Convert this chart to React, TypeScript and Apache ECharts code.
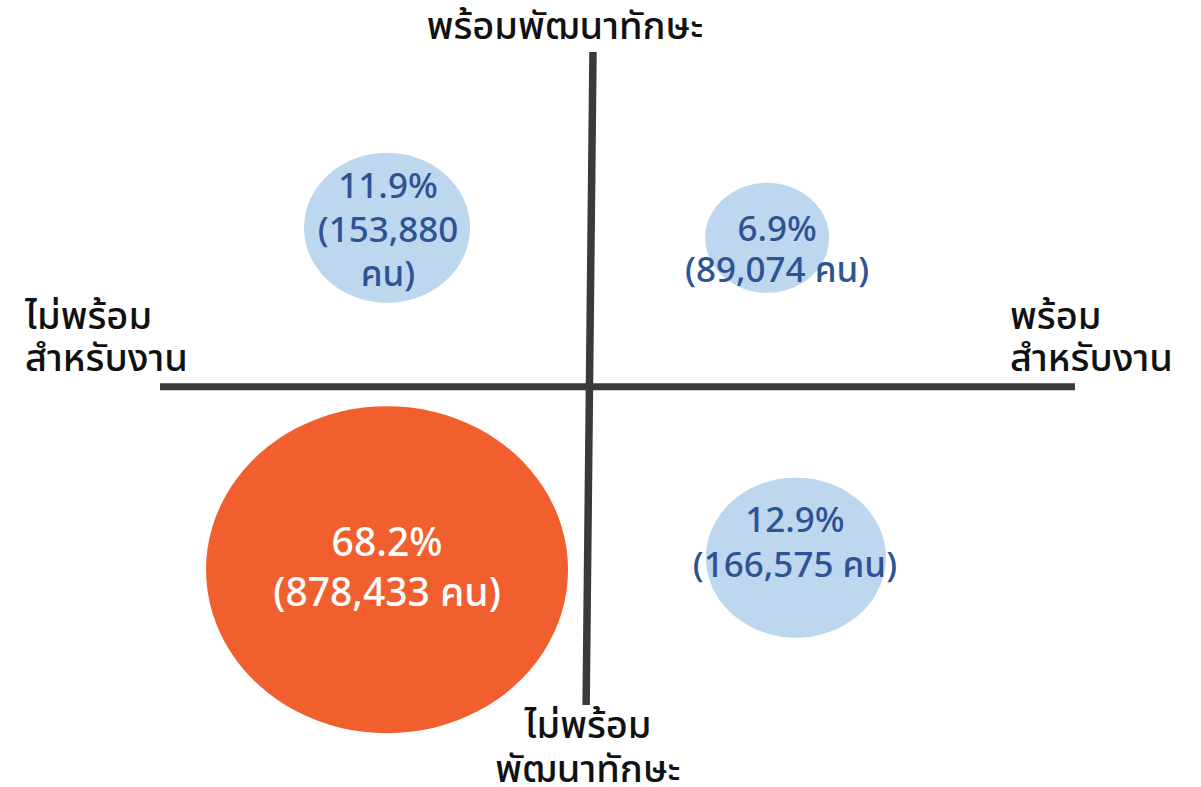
import React, { useEffect, useRef } from "react";
import * as echarts from "echarts";

// Quadrant data
const quadrants = ["ไม่พร้อมสำหรับงาน / พร้อมพัฒนาทักษะ", "พร้อมสำหรับงาน / พร้อมพัฒนาทักษะ", "ไม่พร้อมสำหรับงาน / ไม่พร้อมพัฒนาทักษะ", "พร้อมสำหรับงาน / ไม่พร้อมพัฒนาทักษะ"];
const workReadiness = [-0.472, 0.412, -0.472, 0.479];
const skillReadiness = [0.475, 0.445, -0.546, -0.51];
const percentages = [11.9, 6.9, 68.2, 12.9];
const people = [153880, 89074, 878433, 166575];

const titleTop = "พร้อมพัฒนาทักษะ";
const titleBottom = "ไม่พร้อม\nพัฒนาทักษะ";
const titleLeft = "ไม่พร้อม\nสำหรับงาน";
const titleRight = "พร้อม\nสำหรับงาน";

// Axis extents (quadrant units)
const xMin = -1;
const xMax = 1.128;
const yMin = -0.95;
const yMax = 1;
const hLine = [[-1, 0], [1.128, 0]];
const vLine = [[0.007, 1], [-0.009, -0.95]];

const FONT = "'Noto Sans Thai', 'Noto Sans', sans-serif";
const LINE = "#3a3a3a";
const BLUE_FILL = "#BDD7EE";
const BLUE_TEXT = "#2E5395";
const ORANGE = "#F25F2E";

const bubbleStyles = [
  { size: [166, 150], fill: BLUE_FILL, text: BLUE_TEXT, fontSize: 35, lineHeight: 44, offset: [1, 4], wrap: true },
  { size: [124, 110], fill: BLUE_FILL, text: BLUE_TEXT, fontSize: 35, lineHeight: 41, offset: [10, 13], wrap: false },
  { size: [362, 327], fill: ORANGE, text: "#FFFFFF", fontSize: 39, lineHeight: 50, offset: [0, 0], wrap: false },
  { size: [180, 160], fill: BLUE_FILL, text: BLUE_TEXT, fontSize: 35, lineHeight: 45, offset: [-1, -14], wrap: false },
];

export default function App() {
  const ref = useRef<HTMLDivElement>(null);
  useEffect(() => {
    document.body.style.margin = "0";
    const chart = echarts.init(ref.current!, null, { renderer: "svg" });
    const data = quadrants.map((name, i) => {
      const s = bubbleStyles[i];
      const count = people[i].toLocaleString("en-US");
      const text = s.wrap
        ? `${percentages[i]}%\n(${count}\nคน)`
        : `${percentages[i]}%\n(${count} คน)`;
      return {
        name,
        value: [workReadiness[i], skillReadiness[i]],
        symbolSize: s.size,
        itemStyle: { color: s.fill, opacity: 1 },
        label: {
          show: true,
          position: "inside",
          formatter: text,
          color: s.text,
          fontSize: s.fontSize,
          fontWeight: 500,
          lineHeight: s.lineHeight,
          fontFamily: FONT,
          offset: s.offset,
          align: "center",
        },
      };
    });
    const titleStyle = { fill: "#111111", font: `500 38px ${FONT}` };
    chart.setOption({
      animation: false,
      backgroundColor: "#ffffff",
      grid: { left: 160, right: 126, top: 52, bottom: 82 },
      xAxis: { type: "value", min: xMin, max: xMax, show: false },
      yAxis: { type: "value", min: yMin, max: yMax, show: false },
      series: [
        {
          type: "line",
          data: hLine,
          symbol: "none",
          clip: false,
          silent: true,
          z: 1,
          lineStyle: { color: LINE, width: 7 },
        },
        {
          type: "line",
          data: vLine,
          symbol: "none",
          clip: false,
          silent: true,
          z: 1,
          lineStyle: { color: LINE, width: 7.5 },
        },
        {
          type: "scatter",
          symbol: "circle",
          z: 2,
          data,
        },
      ],
      graphic: [
        { type: "text", x: 565, y: 27, style: { ...titleStyle, text: titleTop, align: "center", verticalAlign: "middle" } },
        { type: "text", x: 588, y: 748, style: { ...titleStyle, text: titleBottom, align: "center", verticalAlign: "middle", lineHeight: 44 } },
        { type: "text", x: 25, y: 338, style: { ...titleStyle, text: titleLeft, align: "left", verticalAlign: "middle", lineHeight: 42 } },
        { type: "text", x: 1010, y: 338, style: { ...titleStyle, text: titleRight, align: "left", verticalAlign: "middle", lineHeight: 42 } },
      ],
    });
    return () => chart.dispose();
  }, []);
  return <div ref={ref} style={{ width: 1201, height: 787 }} />;
}
